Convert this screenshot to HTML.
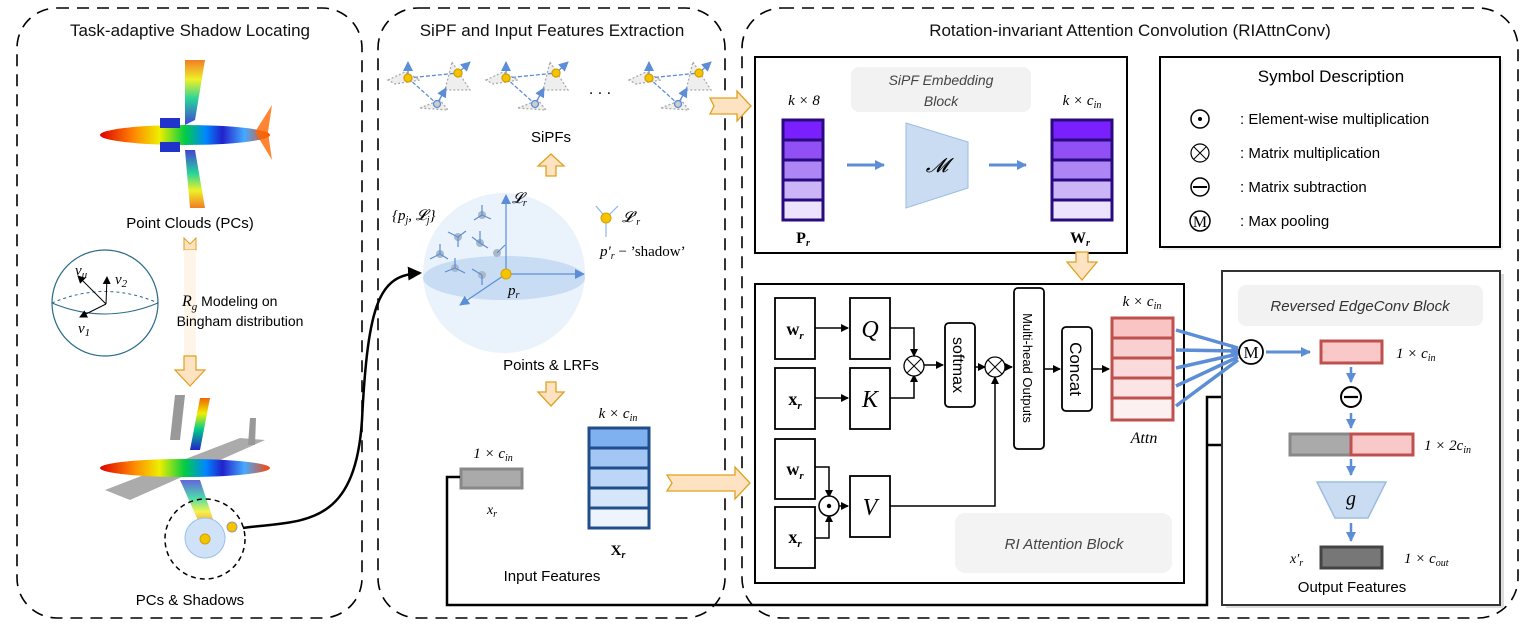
<!DOCTYPE html>
<html><head><meta charset="utf-8"><style>
body{margin:0;background:#fff;}
svg{display:block;font-family:"Liberation Sans",sans-serif;}
.m{font-family:"Liberation Serif",serif;font-style:italic;}
.b{font-family:"Liberation Serif",serif;font-weight:bold;}
</style></head><body>
<svg width="1526" height="628" viewBox="0 0 1526 628" xmlns="http://www.w3.org/2000/svg">
<defs>
<marker id="ak" markerWidth="8" markerHeight="8" refX="7" refY="4" orient="auto" markerUnits="userSpaceOnUse"><path d="M0,0 L8,4 L0,8 z" fill="#000"/></marker>
<marker id="ab" markerWidth="10" markerHeight="10" refX="9" refY="5" orient="auto" markerUnits="userSpaceOnUse"><path d="M0,0 L10,5 L0,10 z" fill="#5b8ed6"/></marker>
<marker id="abig" markerWidth="14" markerHeight="14" refX="12" refY="7" orient="auto" markerUnits="userSpaceOnUse"><path d="M0,0 L14,7 L0,14 z" fill="#000"/></marker>
<linearGradient id="rb" x1="0" x2="1"><stop offset="0" stop-color="#d00"/><stop offset=".2" stop-color="#f80"/><stop offset=".35" stop-color="#ee0"/><stop offset=".5" stop-color="#0c4"/><stop offset=".62" stop-color="#08f"/><stop offset=".72" stop-color="#22c"/><stop offset=".85" stop-color="#4af"/><stop offset="1" stop-color="#f40"/></linearGradient>
<linearGradient id="wg" x1="0" y1="0" x2="0" y2="1"><stop offset="0" stop-color="#e60"/><stop offset=".3" stop-color="#ee0"/><stop offset=".6" stop-color="#0c8"/><stop offset="1" stop-color="#22c"/></linearGradient>
<linearGradient id="wg2" x1="0" y1="1" x2="0" y2="0"><stop offset="0" stop-color="#e60"/><stop offset=".3" stop-color="#ee0"/><stop offset=".6" stop-color="#0c8"/><stop offset="1" stop-color="#22c"/></linearGradient>
</defs>

<!-- panels -->
<g fill="none" stroke="#000" stroke-width="1.6" stroke-dasharray="12,8">
<rect x="17" y="8" width="345" height="610" rx="40"/>
<rect x="378" y="8" width="347" height="610" rx="40"/>
<rect x="742" y="8" width="776" height="610" rx="40"/>
</g>
<g font-size="17" text-anchor="middle" fill="#111">
<text x="190" y="36">Task-adaptive Shadow Locating</text>
<text x="552" y="36">SiPF and Input Features Extraction</text>
<text x="1130" y="36">Rotation-invariant Attention Convolution (RIAttnConv)</text>
</g>

<!-- panel 1 -->
<g>
<path d="M185,60 L205,60 L195,120 L185,125 Z" fill="url(#wg)" opacity=".85"/>
<path d="M185,150 L195,150 L205,208 L190,208 Z" fill="url(#wg2)" opacity=".85"/>
<ellipse cx="185" cy="135" rx="85" ry="10" fill="url(#rb)"/>
<path d="M255,132 L272,105 L268,132 L272,160 Z" fill="#f60" opacity=".8"/>
<rect x="160" y="118" width="20" height="10" fill="#23c"/><rect x="160" y="142" width="20" height="10" fill="#23c"/>
<text x="190" y="228" font-size="15" text-anchor="middle">Point Clouds (PCs)</text>
<path d="M184,238 L190,244 L196,238 L196,250 L184,250 Z" fill="#fde3c2" stroke="#e0a020"/>
<rect x="184" y="250" width="12" height="106" fill="#fff4e8"/>
<path d="M184,356 L196,356 L196,370 L205,370 L190,386 L175,370 L184,370 Z" fill="#fde3c2" stroke="#e0a020" stroke-width="1.2"/>
<circle cx="105" cy="303" r="53" fill="none" stroke="#2a6a8a" stroke-width="1.2"/>
<path d="M52,303 Q105,325 158,303" fill="none" stroke="#2a6a8a"/>
<path d="M52,303 Q105,280 158,303" fill="none" stroke="#2a6a8a" stroke-dasharray="3,3"/>
<g stroke="#000" stroke-width="1" marker-end="url(#ak)"><line x1="106" y1="304" x2="78" y2="276"/><line x1="106" y1="304" x2="107" y2="277"/><line x1="106" y1="304" x2="80" y2="317"/></g>
<text x="75" y="275" class="m" font-size="15">v<tspan font-size="11" dy="3">μ</tspan></text>
<text x="115" y="284" class="m" font-size="15">v<tspan font-size="11" dy="3">2</tspan></text>
<text x="78" y="333" class="m" font-size="15">v<tspan font-size="11" dy="3">1</tspan></text>
<text x="182" y="306" font-size="14"><tspan class="m" font-size="16">R<tspan font-size="11" dy="4">g</tspan></tspan><tspan dy="-4"> Modeling on</tspan></text>
<text x="240" y="326" font-size="14" text-anchor="middle">Bingham distribution</text>
<!-- second plane -->
<path d="M105,490 L240,438 L265,440 L130,500 Z" fill="#888" opacity=".7"/>
<path d="M175,395 L185,395 L180,440 L170,440 Z" fill="#999"/>
<path d="M200,398 L210,398 L200,450 L190,450 Z" fill="url(#wg)"/>
<path d="M250,418 L256,418 L255,445 L248,445 Z" fill="#999"/>
<ellipse cx="185" cy="468" rx="85" ry="9" fill="url(#rb)"/>
<path d="M180,480 L200,480 L215,525 L200,525 Z" fill="url(#wg2)" opacity=".7"/>
<circle cx="205" cy="539" r="40" fill="none" stroke="#000" stroke-width="1.5" stroke-dasharray="5,4"/>
<circle cx="205" cy="538" r="20" fill="#cfe2f7" stroke="#9cc0e8"/>
<circle cx="205" cy="539" r="5" fill="#f5c400" stroke="#d4a000"/>
<circle cx="232" cy="527" r="5" fill="#f5c400" stroke="#999"/>
<text x="190" y="605" font-size="15" text-anchor="middle">PCs &amp; Shadows</text>
<path d="M243,528 C300,520 355,530 362,420 C368,300 380,275 420,273" fill="none" stroke="#000" stroke-width="2.5" marker-end="url(#abig)"/>
</g>

<!-- panel 2 -->
<g>
<g id="sp" stroke="#5b8ed6" stroke-width="1.3">
<path d="M388,80 L405,72 L420,80 L395,84Z" fill="#eee" stroke="#aaa" stroke-dasharray="2,2"/>
<path d="M452,62 L470,90 L445,90Z" fill="#eee" stroke="#aaa" stroke-dasharray="2,2"/>
<path d="M420,108 L440,100 L448,110 Z" fill="#eee" stroke="#aaa" stroke-dasharray="2,2"/>
<line x1="408" y1="78" x2="458" y2="73" stroke-dasharray="4,2"/><line x1="408" y1="78" x2="437" y2="104" stroke-dasharray="4,2"/>
<line x1="408" y1="78" x2="408" y2="62" marker-end="url(#ab)"/><line x1="458" y1="73" x2="470" y2="62" marker-end="url(#ab)"/><line x1="437" y1="104" x2="446" y2="88" marker-end="url(#ab)"/>
<circle cx="408" cy="78" r="4" fill="#f5c400" stroke="#d4a000"/><circle cx="458" cy="73" r="4" fill="#f5c400" stroke="#d4a000"/><circle cx="437" cy="104" r="3.5" fill="#ccc"/>
</g>
<use href="#sp" transform="translate(98,0)"/>
<use href="#sp" transform="translate(241,0)"/>
<text x="600" y="94" font-size="16" text-anchor="middle">. . .</text>
<text x="551" y="142" font-size="15" text-anchor="middle">SiPFs</text>
<path d="M546,176 L556,176 L556,166 L564,166 L551,154 L538,166 L546,166 Z" fill="#fde3c2" stroke="#e0a020" stroke-width="1.3"/>
<ellipse cx="504" cy="273" rx="81" ry="80" fill="#eaf2fc"/>
<ellipse cx="504" cy="278" rx="81" ry="22" fill="#c8dcf3"/>
<g stroke="#5b8ed6" stroke-width="1.2">
<line x1="506" y1="274" x2="506" y2="195" marker-end="url(#ab)"/>
<line x1="506" y1="274" x2="584" y2="274" marker-end="url(#ab)"/>
<line x1="506" y1="274" x2="460" y2="305" marker-end="url(#ab)"/>
</g>
<g fill="#aab8c8">
<circle cx="440" cy="254" r="4"/><circle cx="458" cy="237" r="4"/><circle cx="482" cy="215" r="4"/><circle cx="480" cy="243" r="4"/><circle cx="497" cy="253" r="4"/><circle cx="455" cy="268" r="4"/><circle cx="482" cy="275" r="4"/>
</g>
<g stroke="#5b8ed6" stroke-width="1.2" fill="none">
<path d="M440,254 l-10,5 M440,254 l8,5 M440,254 l0,-10 M458,237 l-10,-5 M458,237 l8,-6 M458,237 l0,10 M482,215 l0,-10 M482,215 l-8,5 M482,215 l9,4 M480,243 l-8,-6 M480,243 l8,5 M480,243 l0,-12 M455,268 l-10,4 M455,268 l10,5 M455,268 l0,-10 M482,275 l-10,-6 M482,275 l0,10 M497,253 l8,-8"/>
</g>
<circle cx="506" cy="274" r="5" fill="#f5c400" stroke="#d4a000"/>
<text x="392" y="220" class="m" font-size="15">{p<tspan font-size="10" dy="3">j</tspan><tspan dy="-3">, 𝓛</tspan><tspan font-size="10" dy="3">j</tspan><tspan dy="-3">}</tspan></text>
<text x="512" y="203" class="m" font-size="15">𝓛<tspan font-size="10" dy="3">r</tspan></text>
<text x="508" y="295" class="m" font-size="15">p<tspan font-size="10" dy="3">r</tspan></text>
<g stroke="#8cb6e8" stroke-width="1.2"><line x1="606" y1="218" x2="596" y2="206"/><line x1="606" y1="218" x2="618" y2="206"/><line x1="606" y1="218" x2="606" y2="237"/></g>
<circle cx="606" cy="218" r="5" fill="#f5c400" stroke="#d4a000"/>
<text x="622" y="222" class="m" font-size="15">𝓛′<tspan font-size="10" dy="3">r</tspan></text>
<text x="600" y="256" font-family="Liberation Serif,serif" font-size="15"><tspan font-style="italic">p′<tspan font-size="10" dy="3">r</tspan></tspan><tspan dy="-3"> − ’shadow’</tspan></text>
<text x="551" y="370" font-size="15" text-anchor="middle">Points &amp; LRFs</text>
<path d="M546,382 L556,382 L556,392 L564,392 L551,406 L538,392 L546,392 Z" fill="#fde3c2" stroke="#e0a020" stroke-width="1.3"/>
<text x="618" y="418" class="m" font-size="15" text-anchor="middle">k × c<tspan font-size="10" dy="3">in</tspan></text>
<g stroke="#1f4e8a" stroke-width="3">
<rect x="589" y="428" width="60" height="100" fill="#fff"/>
<rect x="589" y="428" width="60" height="20" fill="#7fb0f0"/>
<rect x="589" y="448" width="60" height="20" fill="#a3c6f5"/>
<rect x="589" y="468" width="60" height="20" fill="#bdd6f7"/>
<rect x="589" y="488" width="60" height="20" fill="#d6e6fa"/>
<rect x="589" y="508" width="60" height="20" fill="#edf4fd"/>
</g>
<text x="618" y="555" class="b" font-size="15" text-anchor="middle">X<tspan font-size="10" dy="3" font-style="italic">r</tspan></text>
<text x="493" y="458" class="m" font-size="15" text-anchor="middle">1 × c<tspan font-size="10" dy="3">in</tspan></text>
<rect x="461" y="469" width="61" height="19" fill="#aaa" stroke="#888" stroke-width="3"/>
<text x="492" y="514" class="m" font-size="14" text-anchor="middle">x<tspan font-size="10" dy="3">r</tspan></text>
<text x="552" y="581" font-size="15" text-anchor="middle">Input Features</text>
<path d="M667,475 L735,475 L735,467 L750,483 L735,499 L735,491 L667,491 L672,483 Z" fill="#fde3c2" stroke="#e0a020" stroke-width="1.3"/>
<path d="M710,98 L737,98 L737,91 L751,106 L737,121 L737,114 L710,114 L714,106 Z" fill="#fde3c2" stroke="#e0a020" stroke-width="1.3"/>
</g>

<!-- black feedback line -->
<path d="M460,477 L447,477 L447,605 L1207,605 L1207,397 L1338,397" fill="none" stroke="#000" stroke-width="2.5" marker-end="url(#ak)"/>
<path d="M1207,445 L1286,445" fill="none" stroke="#000" stroke-width="2.5" marker-end="url(#ak)"/>

<!-- SiPF embedding -->
<rect x="755" y="57" width="372" height="196" fill="#fff" stroke="#000" stroke-width="2"/>
<rect x="851" y="67" width="180" height="45" rx="8" fill="#f2f2f2"/>
<text x="941" y="85" font-size="14" font-style="italic" text-anchor="middle" fill="#444">SiPF Embedding</text>
<text x="941" y="106" font-size="14" font-style="italic" text-anchor="middle" fill="#444">Block</text>
<text x="804" y="105" class="m" font-size="15" text-anchor="middle">k × 8</text>
<text x="1082" y="105" class="m" font-size="15" text-anchor="middle">k × c<tspan font-size="10" dy="3">in</tspan></text>
<g stroke="#2a0a80" stroke-width="3">
<rect x="783" y="120" width="40" height="20" fill="#7a20ff"/><rect x="783" y="140" width="40" height="20" fill="#9050f5"/><rect x="783" y="160" width="40" height="20" fill="#ad85f5"/><rect x="783" y="180" width="40" height="20" fill="#cbb5f7"/><rect x="783" y="200" width="40" height="20" fill="#ece4fc"/>
<rect x="1052" y="120" width="60" height="20" fill="#7a20ff"/><rect x="1052" y="140" width="60" height="20" fill="#9050f5"/><rect x="1052" y="160" width="60" height="20" fill="#ad85f5"/><rect x="1052" y="180" width="60" height="20" fill="#cbb5f7"/><rect x="1052" y="200" width="60" height="20" fill="#ece4fc"/>
</g>
<text x="803" y="243" class="b" font-size="16" text-anchor="middle">P<tspan font-size="10" dy="3" font-style="italic">r</tspan></text>
<text x="1080" y="243" class="b" font-size="16" text-anchor="middle">W<tspan font-size="10" dy="3" font-style="italic">r</tspan></text>
<g stroke="#5b8ed6" stroke-width="3"><line x1="847" y1="165" x2="884" y2="165" marker-end="url(#ab)"/><line x1="989" y1="165" x2="1026" y2="165" marker-end="url(#ab)"/></g>
<path d="M906,123 L968,142 L968,188 L906,208 Z" fill="#c9dcf2" stroke="#9cbde0"/>
<text x="937" y="172" font-family="DejaVu Serif,serif" font-style="italic" font-size="20" text-anchor="middle">𝓜</text>
<path d="M1076,252 L1088,252 L1088,262 L1097,262 L1082,280 L1067,262 L1076,262 Z" fill="#fde3c2" stroke="#e0a020" stroke-width="1.3"/>

<!-- Symbol box -->
<rect x="1163" y="60" width="340" height="190" fill="#eee"/>
<rect x="1160" y="57" width="340" height="190" fill="#fff" stroke="#000" stroke-width="2"/>
<text x="1331" y="82" font-size="17" text-anchor="middle">Symbol Description</text>
<g font-size="15">
<circle cx="1200" cy="119" r="9" fill="#fff" stroke="#000" stroke-width="1.5"/><circle cx="1200" cy="119" r="2" fill="#000"/>
<text x="1240" y="124">: Element-wise multiplication</text>
<circle cx="1200" cy="153" r="9" fill="#fff" stroke="#000" stroke-width="1.2"/><path d="M1194,147 L1206,159 M1206,147 L1194,159" stroke="#000"/>
<text x="1240" y="158">: Matrix multiplication</text>
<circle cx="1200" cy="187" r="9" fill="#fff" stroke="#000" stroke-width="1.5"/><line x1="1193" y1="187" x2="1207" y2="187" stroke="#000" stroke-width="2"/>
<text x="1240" y="192">: Matrix subtraction</text>
<circle cx="1200" cy="221" r="10" fill="#fff" stroke="#000" stroke-width="1.5"/><text x="1200" y="227" font-family="Liberation Serif,serif" font-size="16" text-anchor="middle">M</text>
<text x="1240" y="226">: Max pooling</text>
</g>

<!-- RI attention block -->
<rect x="755" y="284" width="429" height="299" fill="#fff" stroke="#000" stroke-width="2"/>
<rect x="955" y="513" width="217" height="60" rx="10" fill="#f3f3f3"/>
<text x="1064" y="549" font-size="15" font-style="italic" text-anchor="middle" fill="#444">RI Attention Block</text>
<g fill="#fff" stroke="#000" stroke-width="1.8">
<rect x="775" y="298" width="40" height="61"/><rect x="850" y="298" width="40" height="61"/>
<rect x="775" y="368" width="40" height="61"/><rect x="850" y="368" width="40" height="61"/>
<rect x="775" y="439" width="40" height="60"/><rect x="775" y="507" width="40" height="61"/>
<rect x="850" y="476" width="40" height="61"/>
<rect x="945" y="323" width="30" height="84" rx="4"/>
<rect x="1014" y="288" width="30" height="161" rx="4"/>
<rect x="1062" y="327" width="30" height="84" rx="4"/>
</g>
<g class="b" font-size="18" text-anchor="middle">
<text x="795" y="335">w<tspan font-size="11" dy="4" font-style="italic">r</tspan></text>
<text x="795" y="405">x<tspan font-size="11" dy="4" font-style="italic">r</tspan></text>
<text x="795" y="475">w<tspan font-size="11" dy="4" font-style="italic">r</tspan></text>
<text x="795" y="543">x<tspan font-size="11" dy="4" font-style="italic">r</tspan></text>
</g>
<g class="m" font-size="24" text-anchor="middle">
<text x="870" y="337">Q</text><text x="870" y="407">K</text><text x="870" y="515">V</text>
</g>
<text transform="translate(953,365) rotate(90)" font-size="16" text-anchor="middle">softmax</text>
<text transform="translate(1023,368) rotate(90)" font-size="13" text-anchor="middle">Multi-head Outputs</text>
<text transform="translate(1070,369) rotate(90)" font-size="17" text-anchor="middle">Concat</text>
<g stroke="#000" stroke-width="1.5" fill="none" marker-end="url(#ak)">
<line x1="815" y1="328" x2="848" y2="328"/><line x1="815" y1="398" x2="848" y2="398"/>
<path d="M890,328 L914,328 L914,356"/><path d="M890,398 L914,398 L914,375"/>
<line x1="924" y1="365" x2="943" y2="365"/><line x1="975" y1="367" x2="985" y2="367"/>
<path d="M890,506 L995,506 L995,377"/><line x1="1005" y1="367" x2="1012" y2="367"/>
<line x1="1044" y1="369" x2="1060" y2="369"/><line x1="1092" y1="369" x2="1109" y2="369"/>
<path d="M815,467 L829,467 L829,497"/><path d="M815,538 L829,538 L829,515"/><line x1="839" y1="506" x2="848" y2="506"/>
</g>
<circle cx="914" cy="366" r="10" fill="#fff" stroke="#000" stroke-width="1.3"/><path d="M907,359 L921,373 M921,359 L907,373" stroke="#000"/>
<circle cx="995" cy="367" r="10" fill="#fff" stroke="#000" stroke-width="1.3"/><path d="M988,360 L1002,374 M1002,360 L988,374" stroke="#000"/>
<circle cx="829" cy="506" r="10" fill="#fff" stroke="#000" stroke-width="1.5"/><circle cx="829" cy="506" r="2.2" fill="#000"/>
<text x="1142" y="306" class="m" font-size="15" text-anchor="middle">k × c<tspan font-size="10" dy="3">in</tspan></text>
<g stroke="#c0504d" stroke-width="3">
<rect x="1112" y="318" width="61" height="20" fill="#f8c4c4"/><rect x="1112" y="338" width="61" height="20" fill="#f9d0d0"/><rect x="1112" y="358" width="61" height="20" fill="#fadada"/><rect x="1112" y="378" width="61" height="20" fill="#fce4e4"/><rect x="1112" y="398" width="61" height="22" fill="#fdf0f0"/>
</g>
<text x="1144" y="443" class="m" font-size="16" text-anchor="middle">Attn</text>

<!-- reversed edgeconv -->
<rect x="1226" y="274" width="278" height="334" fill="#ddd"/>
<rect x="1222" y="271" width="278" height="334" fill="#fff" stroke="#333" stroke-width="2"/>
<rect x="1238" y="285" width="245" height="41" rx="8" fill="#f2f2f2"/>
<text x="1360" y="311" font-size="15" font-style="italic" text-anchor="middle" fill="#333">Reversed EdgeConv Block</text>
<g stroke="#5b8ed6" stroke-width="3.5" fill="none">
<line x1="1176" y1="330" x2="1238" y2="348"/><line x1="1176" y1="350" x2="1238" y2="351"/><line x1="1176" y1="368" x2="1238" y2="354"/><line x1="1176" y1="386" x2="1238" y2="357"/><line x1="1176" y1="406" x2="1238" y2="360"/>
</g>
<path d="M1232,344 L1242,352 L1230,358 Z" fill="#5b8ed6"/>
<circle cx="1251" cy="352" r="12" fill="#fff" stroke="#000" stroke-width="1.8"/><text x="1251" y="358" font-family="Liberation Serif,serif" font-size="17" text-anchor="middle">M</text>
<line x1="1266" y1="352" x2="1310" y2="352" stroke="#5b8ed6" stroke-width="3" marker-end="url(#ab)"/>
<rect x="1321" y="341" width="61" height="22" fill="#f9c8c8" stroke="#c0504d" stroke-width="3"/>
<text x="1396" y="358" class="m" font-size="15">1 × c<tspan font-size="10" dy="3">in</tspan></text>
<g stroke="#5b8ed6" stroke-width="2.5" marker-end="url(#ab)"><line x1="1351" y1="367" x2="1351" y2="382"/><line x1="1351" y1="413" x2="1351" y2="428"/><line x1="1351" y1="459" x2="1351" y2="475"/><line x1="1351" y1="523" x2="1351" y2="541"/></g>
<circle cx="1351" cy="397" r="10" fill="#fff" stroke="#000" stroke-width="2"/><line x1="1344" y1="397" x2="1358" y2="397" stroke="#000" stroke-width="2.2"/>
<rect x="1290" y="434" width="61" height="21" fill="#aaa" stroke="#888" stroke-width="3"/>
<rect x="1351" y="434" width="62" height="21" fill="#f9c8c8" stroke="#c0504d" stroke-width="3"/>
<text x="1424" y="450" class="m" font-size="15">1 × 2c<tspan font-size="10" dy="3">in</tspan></text>
<path d="M1317,482 L1386,482 L1368,518 L1335,518 Z" fill="#c9dcf2" stroke="#9cbde0" stroke-width="1.5"/>
<text x="1351" y="505" class="m" font-size="20" text-anchor="middle">g</text>
<rect x="1321" y="547" width="61" height="21" fill="#777" stroke="#444" stroke-width="3"/>
<text x="1290" y="563" class="m" font-size="14">x′<tspan font-size="10" dy="3">r</tspan></text>
<text x="1404" y="563" class="m" font-size="15">1 × c<tspan font-size="10" dy="3">out</tspan></text>
<text x="1352" y="592" font-size="15" text-anchor="middle">Output Features</text>
</svg>
</body></html>
